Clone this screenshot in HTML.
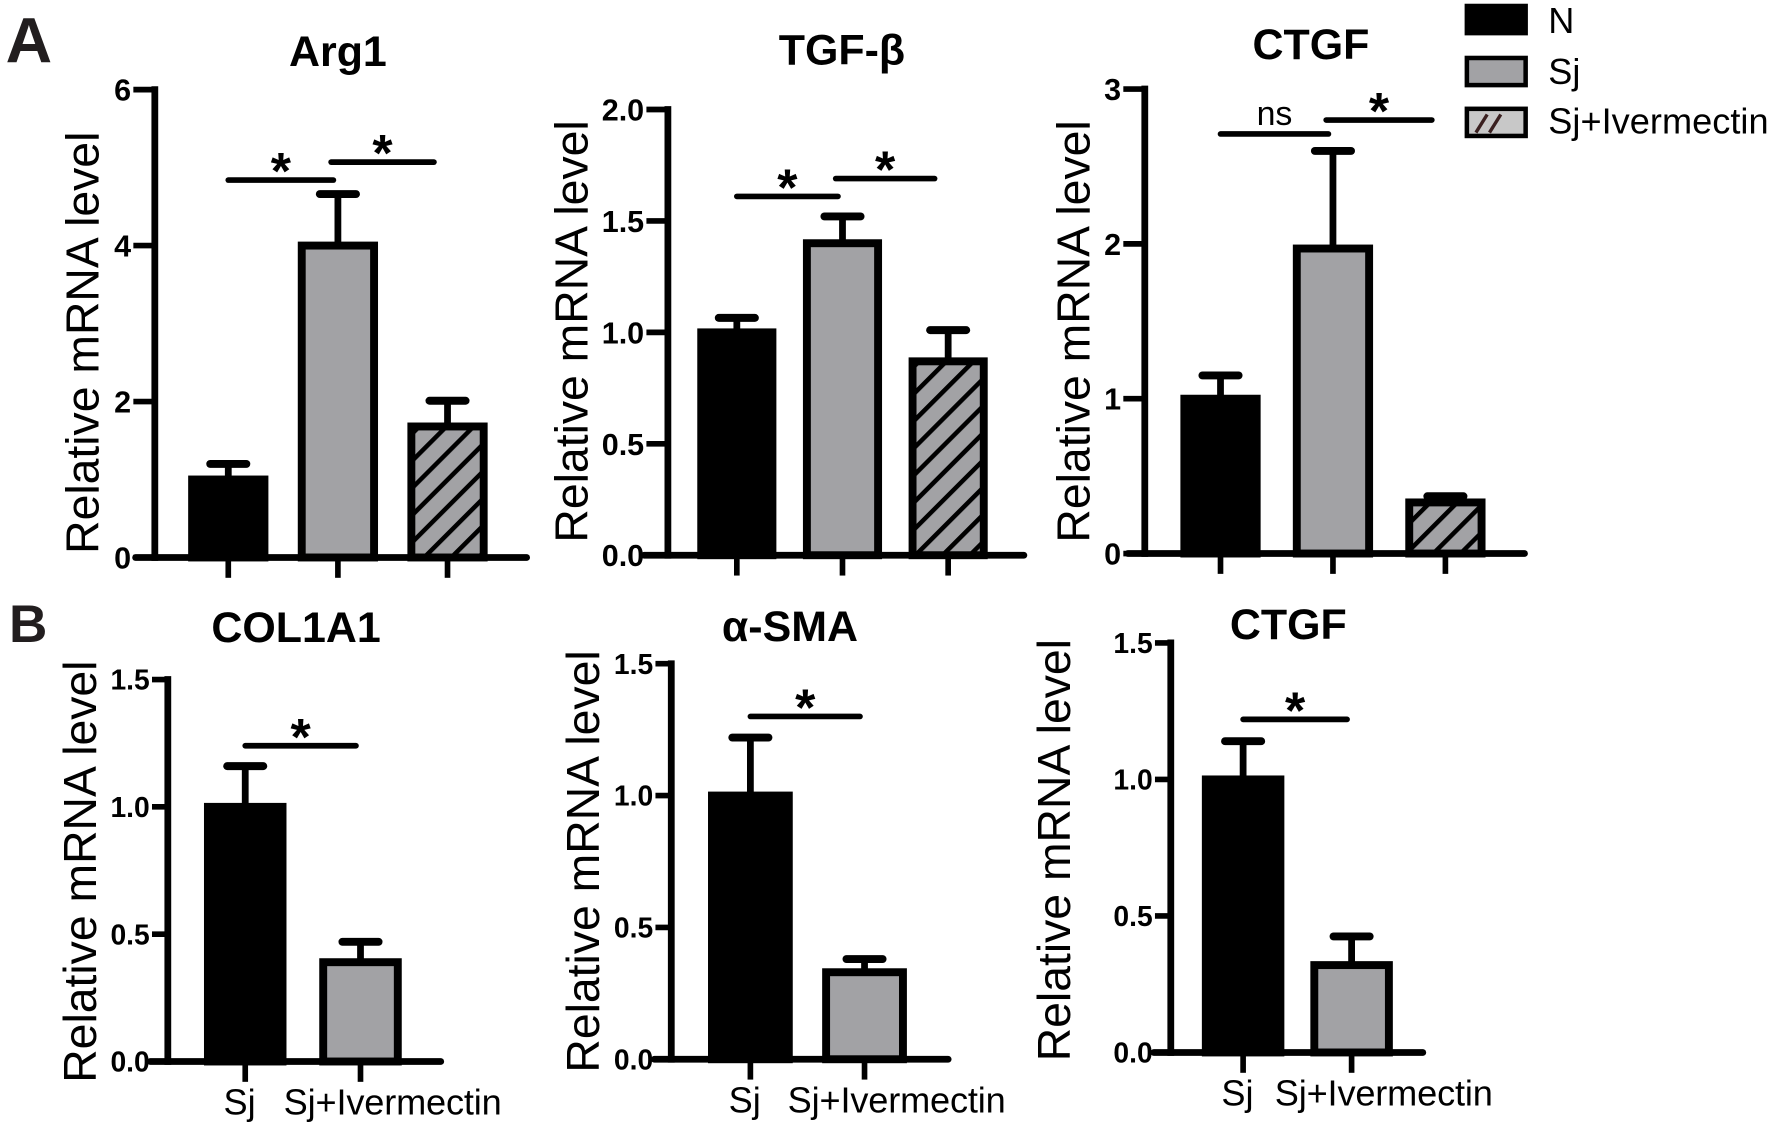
<!DOCTYPE html>
<html><head><meta charset="utf-8"><style>
html,body{margin:0;padding:0;background:#fff}
svg{display:block}
text{font-family:"Liberation Sans",Arial,sans-serif}
</style></head><body>
<svg id="fig" width="1772" height="1124" viewBox="0 0 1568 994" xmlns="http://www.w3.org/2000/svg">
<defs>
<pattern id="hatch" patternUnits="userSpaceOnUse" width="17" height="17" patternTransform="rotate(45)">
<rect width="17" height="17" fill="#a2a2a5"/>
<line x1="0" y1="0" x2="0" y2="17" stroke="#000" stroke-width="8"/>
</pattern>
</defs>
<text x="5" y="55" font-size="57" font-weight="bold" fill="#221e1f">A</text>
<text x="8" y="568" font-size="47" font-weight="bold" fill="#221e1f">B</text>
<g>
<rect x="1298" y="5" width="52" height="24" fill="#000" stroke="#000" stroke-width="4"/>
<text x="1370" y="29" font-size="32">N</text>
<rect x="1298" y="51" width="52" height="24" fill="#a2a2a5" stroke="#000" stroke-width="4"/>
<text x="1370" y="74" font-size="32">Sj</text>
<rect x="1298" y="96" width="52" height="24" fill="#c8c8c8" stroke="#000" stroke-width="4"/>
<line x1="1306" y1="117" x2="1316" y2="101" stroke="#3a2020" stroke-width="3"/>
<line x1="1318" y1="117" x2="1328" y2="101" stroke="#3a2020" stroke-width="3"/>
<text x="1370" y="118" font-size="32" textLength="195">Sj+Ivermectin</text>
</g>
</svg>
<script>
// ---- data ----
const groupsA = ["N","Sj","Sj+Ivermectin"];
const groupsB = ["Sj","Sj+Ivermectin"];
const arg1Values = [1.0, 4.0, 1.68];
const arg1Errors = [0.2, 0.66, 0.33];
const arg1Ticks = [0, 2, 4, 6];
const arg1TickLabels = ["0","2","4","6"];
const tgfValues = [1.0, 1.4, 0.87];
const tgfErrors = [0.065, 0.12, 0.14];
const tgfTicks = [0, 0.5, 1.0, 1.5, 2.0];
const tgfTickLabels = ["0.0","0.5","1.0","1.5","2.0"];
const ctgfAValues = [1.0, 1.97, 0.33];
const ctgfAErrors = [0.15, 0.63, 0.04];
const ctgfATicks = [0, 1, 2, 3];
const ctgfATickLabels = ["0","1","2","3"];
const col1a1Values = [1.0, 0.39];
const col1a1Errors = [0.16, 0.08];
const smaValues = [1.0, 0.33];
const smaErrors = [0.22, 0.05];
const ctgfBValues = [1.0, 0.32];
const ctgfBErrors = [0.14, 0.105];
const bTicks = [0, 0.5, 1.0, 1.5];
const bTickLabels = ["0.0","0.5","1.0","1.5"];
const arg1Sig = [[0,1,"*",4.84],[1,2,"*",5.07]];
const tgfSig = [[0,1,"*",1.61],[1,2,"*",1.69]];
const ctgfASig = [[0,1,"ns",2.71],[1,2,"*",2.80]];
const col1a1Sig = [[0,1,"*",1.24]];
const smaSig = [[0,1,"*",1.30]];
const ctgfBSig = [[0,1,"*",1.22]];

const NS = "http://www.w3.org/2000/svg";
const svg = document.getElementById("fig");
function mk(tag, attrs, parent){
  const e = document.createElementNS(NS, tag);
  for (const k in attrs) e.setAttribute(k, attrs[k]);
  (parent||svg).appendChild(e);
  return e;
}
const fills = ["#000","#a2a2a5","url(#hatch)"];
const fillsB = ["#000","#a2a2a5"];

function chart(c){
  const g = mk("g", {});
  
  
  const y = v => c.y0 - (v / c.max) * (c.y0 - c.yTop);
  const x = i => c.x0 + i * c.step;
  const t = mk("text", {x:c.tx, y:c.ty, "font-size":38, "font-weight":"bold", "text-anchor":"middle"}, g);
  t.textContent = c.title;
  
  
  const yl = mk("text", {x:0, y:0, "font-size":41, "text-anchor":"middle", transform:`translate(${c.lx+14},${c.ly}) rotate(-90)`}, g);
  yl.textContent = "Relative mRNA level";
  
  
  c.values.forEach((v, i) => {
    const cx = x(i), top = y(v), cap = y(v + c.errors[i]);
    const eb = mk("g", {}, g);
    
    
    mk("line", {x1:cx, y1:top, x2:cx, y2:cap, stroke:"#000", "stroke-width":6}, eb);
    mk("line", {x1:cx-16, y1:cap, x2:cx+16, y2:cap, stroke:"#000", "stroke-width":7, "stroke-linecap":"round"}, eb);
    const r = mk("rect", {x:cx - c.bw/2, y:top, width:c.bw, height:c.y0 - top, fill:c.fills[i], stroke:"#000", "stroke-width":7}, g);
    
    
    mk("line", {x1:cx, y1:c.y0, x2:cx, y2:c.y0+18, stroke:"#000", "stroke-width":5}, g);
    if (c.xlabels){
      const xl = i===0
        ? mk("text", {x:cx-5, y:c.y0+47, "font-size":32, "text-anchor":"middle"}, g)
        : mk("text", {x:cx-68, y:c.y0+47, "font-size":32, "text-anchor":"start", textLength:193}, g);
      xl.textContent = c.groups[i];
      
      
    }
  });
  const ya = mk("line", {x1:c.ax, y1:y(c.max)-3, x2:c.ax, y2:c.y0+3, stroke:"#000", "stroke-width":6}, g);
  
  
  const xa = mk("line", {x1:c.xs, y1:c.y0, x2:c.xe, y2:c.y0, stroke:"#000", "stroke-width":6, "stroke-linecap":"round"}, g);
  
  
  const tl_len = c.tickLen || 19;
  c.ticks.forEach((tv, i) => {
    mk("line", {x1:c.ax-tl_len, y1:y(tv), x2:c.ax, y2:y(tv), stroke:"#000", "stroke-width":5}, g);
    const tl = mk("text", {x:c.ax-tl_len-2, y:y(tv)+c.tickFont*0.36, "font-size":c.tickFont, "font-weight":"bold", "text-anchor":"end"}, g);
    tl.textContent = c.tickLabels[i];
    
    
  });
  c.sig.forEach(s => {
    const x1 = x(s[0]) + (s[0] > 0 ? -6 : 0), x2 = x(s[1]) - (s[0] > 0 ? 12 : 4), yy = y(s[3]);
    const sl = mk("line", {x1:x1, y1:yy, x2:x2, y2:yy, stroke:"#000", "stroke-width":5, "stroke-linecap":"round"}, g);
    
    
    const st = mk("text", {x:(x1+x2)/2, y:s[2]==="*" ? yy+8 : yy-8, "font-size":s[2]==="*"?46:30, "font-weight":s[2]==="*"?"bold":"normal", "text-anchor":"middle"}, g);
    st.textContent = s[2];
    
    
  });
}

chart({name:"chart-arg1", title:"Arg1", tx:299, ty:58, lx:73, ly:303, values:arg1Values, errors:arg1Errors, groups:groupsA, fills:fills, tickFont:27,
  ticks:arg1Ticks, tickLabels:arg1TickLabels, max:6, y0:493, yTop:79, ax:137, x0:202, step:97, bw:64, xs:120, xe:466, sig:arg1Sig});
chart({name:"chart-tgf-beta", title:"TGF-β", tx:745, ty:57, lx:506, ly:293, values:tgfValues, errors:tgfErrors, groups:groupsA, fills:fills, tickFont:27,
  ticks:tgfTicks, tickLabels:tgfTickLabels, max:2, y0:491, yTop:96.6, ax:591, x0:652, step:93.5, bw:63, xs:570, xe:906, sig:tgfSig});
chart({name:"chart-ctgf-a", title:"CTGF", tx:1160, ty:52, lx:950, ly:293, values:ctgfAValues, errors:ctgfAErrors, groups:groupsA, fills:fills, tickFont:27,
  ticks:ctgfATicks, tickLabels:ctgfATickLabels, max:3, y0:489.5, yTop:78.5, ax:1013, x0:1080, step:99.5, bw:64, xs:998, xe:1349, sig:ctgfASig});
chart({name:"chart-col1a1", title:"COL1A1", tx:262, ty:568, lx:71, ly:771, values:col1a1Values, errors:col1a1Errors, groups:groupsB, fills:fillsB, xlabels:true, tickFont:25, tickLen:14,
  ticks:bTicks, tickLabels:bTickLabels, max:1.5, y0:939, yTop:601, ax:148.5, x0:217, step:102, bw:66, xs:133, xe:390, sig:col1a1Sig});
chart({name:"chart-alpha-sma", title:"α-SMA", tx:699, ty:567, lx:516, ly:762, values:smaValues, errors:smaErrors, groups:groupsB, fills:fillsB, xlabels:true, tickFont:25, tickLen:14,
  ticks:bTicks, tickLabels:bTickLabels, max:1.5, y0:937, yTop:587, ax:594, x0:664, step:101, bw:68, xs:579, xe:839, sig:smaSig});
chart({name:"chart-ctgf-b", title:"CTGF", tx:1140, ty:565, lx:933, ly:752, values:ctgfBValues, errors:ctgfBErrors, groups:groupsB, fills:fillsB, xlabels:true, tickFont:25, tickLen:14,
  ticks:bTicks, tickLabels:bTickLabels, max:1.5, y0:931, yTop:568.6, ax:1036, x0:1100, step:96, bw:66, xs:1021, xe:1259, sig:ctgfBSig});
</script>
</body></html>
